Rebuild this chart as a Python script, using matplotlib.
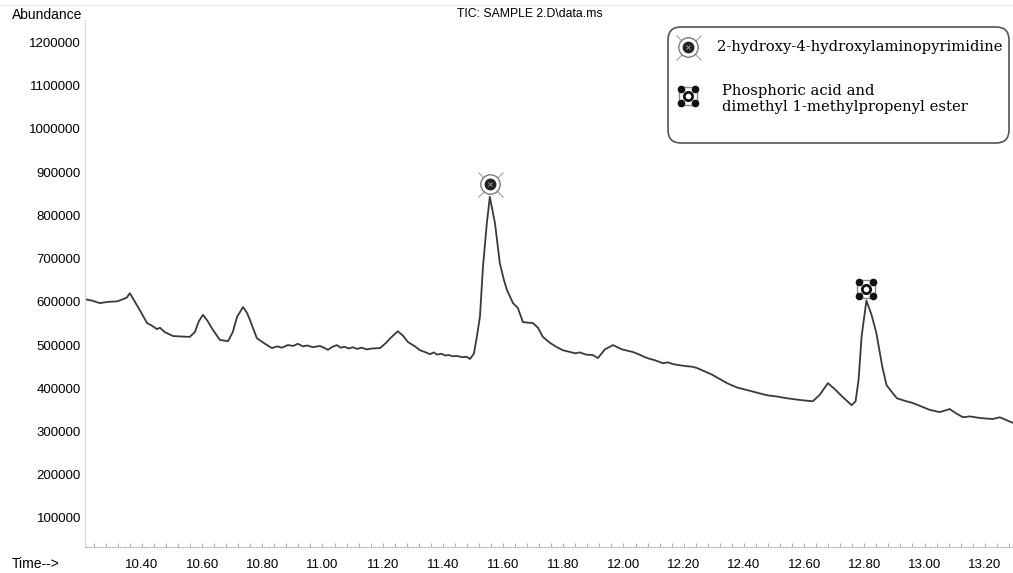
import numpy as np
import matplotlib
matplotlib.use("Agg")
import matplotlib.pyplot as plt
from matplotlib.patches import FancyBboxPatch
from matplotlib.transforms import offset_copy

plt.rcParams['font.family'] = ['Liberation Sans', 'DejaVu Sans']

# retention time (min) and abundance
time = [10.211, 10.234, 10.260, 10.287, 10.317, 10.337, 10.350, 10.360, 10.377, 10.393,
        10.417, 10.433, 10.450, 10.460, 10.476, 10.503, 10.526, 10.559, 10.576, 10.589,
        10.603, 10.619, 10.636, 10.659, 10.686, 10.702, 10.716, 10.736, 10.749, 10.759,
        10.782, 10.809, 10.832, 10.850, 10.865, 10.885, 10.902, 10.918, 10.935, 10.950,
        10.968, 10.991, 11.005, 11.018, 11.033, 11.048, 11.060, 11.074, 11.087, 11.101,
        11.115, 11.130, 11.147, 11.164, 11.191, 11.211, 11.224, 11.250, 11.267, 11.284,
        11.307, 11.324, 11.340, 11.357, 11.370, 11.380, 11.395, 11.407, 11.420, 11.433,
        11.447, 11.463, 11.478, 11.490, 11.503, 11.513,
        11.523, 11.533, 11.546, 11.556, 11.573, 11.589, 11.603, 11.613, 11.633, 11.649,
        11.666, 11.699, 11.716, 11.732, 11.756, 11.779, 11.799, 11.822, 11.840, 11.855,
        11.875, 11.898, 11.915, 11.938, 11.965, 11.995, 12.031, 12.050, 12.071, 12.088,
        12.104, 12.131, 12.148, 12.164, 12.190, 12.211, 12.228,
        12.244, 12.277, 12.293, 12.311, 12.344, 12.360, 12.377, 12.410, 12.443, 12.476,
        12.510, 12.543, 12.586, 12.629, 12.652, 12.679, 12.702, 12.728, 12.758, 12.771,
        12.781, 12.791, 12.807, 12.824, 12.840, 12.860, 12.874, 12.908, 12.935, 12.961,
        12.990, 13.018, 13.051, 13.084, 13.105, 13.128, 13.150, 13.178, 13.205, 13.227,
        13.250, 13.294]
abundance = [606e3, 603e3, 597e3, 600e3, 601e3, 606e3, 610e3, 620e3, 600e3, 581e3,
             551e3, 545e3, 537e3, 540e3, 530e3, 521e3, 520e3, 519e3, 530e3, 555e3,
             570e3, 555e3, 535e3, 512e3, 509e3, 530e3, 565e3, 588e3, 575e3, 558e3,
             516e3, 503e3, 493e3, 497e3, 494e3, 500e3, 498e3, 503e3, 497e3, 499e3,
             495e3, 498e3, 494e3, 489e3, 496e3, 500e3, 494e3, 496e3, 492e3, 495e3,
             491e3, 494e3, 490e3, 492e3, 493e3, 505e3, 515e3, 532e3, 522e3, 507e3,
             497e3, 488e3, 484e3, 479e3, 483e3, 478e3, 480e3, 476e3, 477e3, 474e3,
             475e3, 472e3, 473e3, 468e3, 480e3, 520e3,
             565e3, 680e3, 782e3, 843e3, 782e3, 690e3, 650e3, 627e3, 597e3, 586e3,
             553e3, 551e3, 540e3, 519e3, 505e3, 495e3, 488e3, 484e3, 481e3, 483e3,
             478e3, 477e3, 470e3, 490e3, 500e3, 490e3, 484e3, 479e3, 472e3, 468e3,
             465e3, 458e3, 460e3, 456e3, 453e3, 451e3, 450e3,
             447e3, 437e3, 432e3, 425e3, 412e3, 407e3, 402e3, 396e3, 390e3, 384e3,
             381e3, 377e3, 373e3, 370e3, 385e3, 412e3, 398e3, 380e3, 361e3, 370e3,
             420e3, 520e3, 603e3, 570e3, 528e3, 449e3, 407e3, 377e3, 371e3, 366e3,
             358e3, 350e3, 345e3, 352e3, 342e3, 333e3, 335e3, 332e3, 330e3, 329e3,
             333e3, 320e3]

peak_times = [11.556, 12.807]
peak_heights = [843e3, 603e3]
compounds = ["2-hydroxy-4-hydroxylaminopyrimidine",
             "Phosphoric acid and\ndimethyl 1-methylpropenyl ester"]

x_ticks = [10.40, 10.60, 10.80, 11.00, 11.20, 11.40, 11.60, 11.80, 12.00,
           12.20, 12.40, 12.60, 12.80, 13.00, 13.20]
y_ticks = [100000, 200000, 300000, 400000, 500000, 600000,
           700000, 800000, 900000, 1000000, 1100000, 1200000]

W, H = 1013, 573
fig = plt.figure(figsize=(W / 100, H / 100), dpi=100)
ax = fig.add_axes([85 / W, 1 - 547 / H, 1 - 85 / W, (547 - 20) / H])

ax.plot(time, abundance, color='#3a3a3a', lw=1.3)
ax.set_xlim(10.211, 13.294)
ax.set_ylim(32900, 1252000)

ax.set_xticks(x_ticks)
ax.set_xticklabels([f"{t:.2f}" for t in x_ticks])
ax.set_xticks(np.arange(10.24, 13.29, 0.04), minor=True)
ax.set_yticks(y_ticks)
ax.set_yticklabels([str(v) for v in y_ticks])
ax.tick_params(axis='x', which='both', direction='in', color='#b0b0b0',
               length=3, width=0.8, pad=9, labelsize=9.5)
ax.tick_params(axis='y', length=0, pad=3, labelsize=9.5)
for s in ['top', 'right']:
    ax.spines[s].set_visible(False)
ax.spines['left'].set_color('#d8d8d8')
ax.spines['bottom'].set_color('#b8b8b8')
ax.spines['bottom'].set_linestyle((0, (2, 1.5)))


def marker_circle(a, x, y, tr=None):
    tr = tr or a.transData
    a.plot([x], [y], marker='x', ms=18, mew=0.8, color='#a0a0a0', transform=tr, zorder=5)
    a.plot([x], [y], marker='o', ms=14, mfc='white', mec='#7a7a7a', mew=1.0,
           transform=tr, zorder=6)
    a.plot([x], [y], marker='o', ms=7.5, mfc='#222222', mec='#222222', transform=tr, zorder=7)
    a.plot([x], [y], marker='x', ms=3, mew=0.6, color='#aaaaaa', transform=tr, zorder=8)


def marker_square(a, x, y, tr=None):
    tr = tr or a.transData
    a.plot([x], [y], marker='s', ms=12.5, mfc='white', mec='#8a8a8a', mew=1.0,
           transform=tr, zorder=6)
    for dx, dy in [(-5, 5), (5, 5), (-5, -5), (5, -5)]:
        t2 = offset_copy(tr, fig=fig, x=dx, y=dy, units='points')
        a.plot([x], [y], marker='o', ms=4.5, color='#111111', transform=t2, zorder=7)
    a.plot([x], [y], marker='o', ms=6, mfc='white', mec='#111111', mew=2.0,
           transform=tr, zorder=8)


marker_circle(ax, peak_times[0], peak_heights[0],
              offset_copy(ax.transData, fig=fig, x=0, y=9, units='points'))
marker_square(ax, peak_times[1], peak_heights[1],
              offset_copy(ax.transData, fig=fig, x=0, y=8, units='points'))

# overlay in pixel coords for texts and legend
ov = fig.add_axes([0, 0, 1, 1], zorder=10)
ov.set_xlim(0, W)
ov.set_ylim(H, 0)
ov.axis('off')
ov.plot([0, W], [5, 5], color='#e6e6e6', lw=1.0)

ov.text(12, 15, "Abundance", fontsize=10, va='center', ha='left')
ov.text(530, 14, "TIC: SAMPLE 2.D\\data.ms", fontsize=8.8, va='center', ha='center')
ov.text(12, 564, "Time-->", fontsize=10, va='center', ha='left')

serif = ['DejaVu Serif', 'Liberation Serif']
box = FancyBboxPatch((668, 27), 341, 116, boxstyle="round,pad=0,rounding_size=13",
                     fc='white', ec='#555555', lw=1.2, zorder=1)
ov.add_patch(box)
marker_circle(ov, 688, 47)
marker_square(ov, 688, 96)
ov.text(717, 47, compounds[0], fontsize=10.6, family=serif,
        va='center', ha='left', zorder=9)
ov.text(722, 99, compounds[1], fontsize=10.6, family=serif,
        va='center', ha='left', linespacing=1.2, zorder=9)

fig.savefig("out.png", dpi=100)
